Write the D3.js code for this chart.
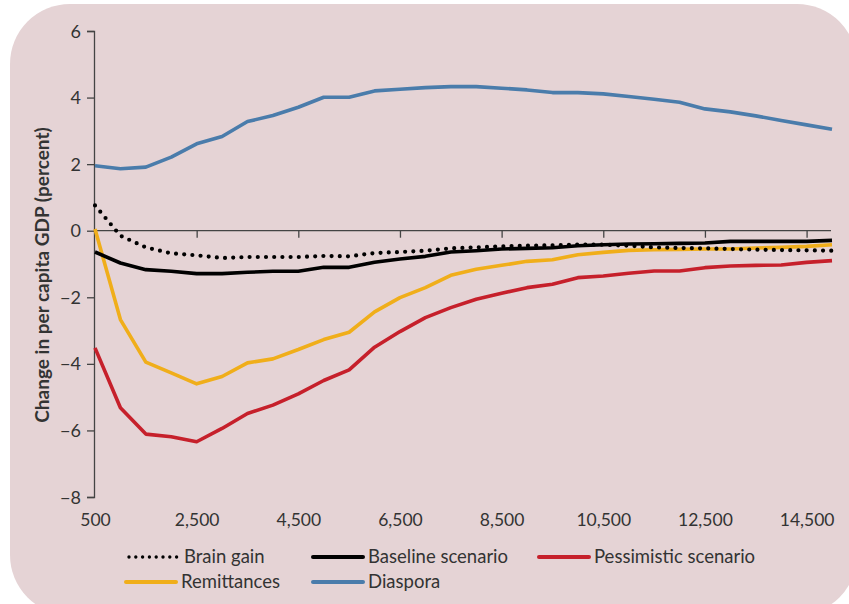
<!DOCTYPE html>
<html><head><meta charset="utf-8">
<script src="https://cdn.jsdelivr.net/npm/d3@7"></script>
<style>
html,body{margin:0;padding:0;background:#fff;}
svg text{font-family:Lato,"Open Sans",sans-serif;fill:#333;}
</style></head>
<body><svg id="chart" width="849" height="604"></svg>
<script>
const incomes = [500,1000,1500,2000,2500,3000,3500,4000,4500,5000,5500,6000,6500,7000,7500,8000,8500,9000,9500,10000,10500,11000,11500,12000,12500,13000,13500,14000,14500,15000];
const brainGain = [0.76,-0.15,-0.50,-0.68,-0.74,-0.82,-0.79,-0.79,-0.79,-0.76,-0.77,-0.67,-0.64,-0.60,-0.53,-0.50,-0.47,-0.45,-0.44,-0.42,-0.42,-0.45,-0.50,-0.52,-0.53,-0.55,-0.57,-0.58,-0.59,-0.60];
const baseline = [-0.64,-0.97,-1.17,-1.22,-1.29,-1.29,-1.25,-1.22,-1.22,-1.10,-1.10,-0.95,-0.85,-0.77,-0.64,-0.60,-0.55,-0.53,-0.51,-0.45,-0.42,-0.40,-0.39,-0.38,-0.37,-0.32,-0.32,-0.32,-0.32,-0.29];
const pessimistic = [-3.52,-5.32,-6.11,-6.19,-6.34,-5.94,-5.49,-5.24,-4.90,-4.50,-4.18,-3.50,-3.03,-2.61,-2.31,-2.06,-1.88,-1.71,-1.61,-1.41,-1.36,-1.28,-1.21,-1.21,-1.11,-1.06,-1.04,-1.03,-0.95,-0.90];
const remittances = [0.05,-2.67,-3.95,-4.27,-4.60,-4.38,-3.97,-3.85,-3.57,-3.27,-3.05,-2.44,-2.01,-1.71,-1.34,-1.16,-1.04,-0.92,-0.87,-0.72,-0.65,-0.59,-0.57,-0.56,-0.55,-0.55,-0.52,-0.50,-0.47,-0.42];
const diaspora = [1.95,1.86,1.91,2.21,2.61,2.83,3.28,3.46,3.71,4.01,4.01,4.20,4.25,4.30,4.33,4.33,4.28,4.23,4.15,4.15,4.11,4.03,3.95,3.86,3.66,3.57,3.45,3.31,3.18,3.05];
const xTicks = [500,2500,4500,6500,8500,10500,12500,14500];
const yTicks = [-8,-6,-4,-2,0,2,4,6];
const seriesNames = ["Brain gain","Baseline scenario","Pessimistic scenario","Remittances","Diaspora"];
const seriesValues = [brainGain, baseline, pessimistic, remittances, diaspora];
const seriesColors = ["#000000","#000000","#c6202b","#f0ae1a","#4a7cab"];
const yTitle = "Change in per capita GDP (percent)";

const svg = d3.select("#chart");
svg.append("rect").attr("x",10).attr("y",4).attr("width",847).attr("height",611)
  .attr("rx",60).attr("ry",60).attr("fill","#e5d3d5");

const x = d3.scaleLinear().domain([500,15000]).range([95,832]);
const y = d3.scaleLinear().domain([-8,6]).range([497,31]);
const fmt = d3.format(",");
const yfmt = v => v < 0 ? "\u2212" + Math.abs(v) : String(v);

// y axis
const ya = svg.append("g").attr("transform","translate(94,0)")
  .call(d3.axisLeft(y).tickValues(yTicks).tickSize(7).tickPadding(6).tickFormat(yfmt));
ya.select(".domain").attr("stroke","#444").attr("stroke-width",1.3);
ya.selectAll(".tick line").attr("stroke","#444").attr("stroke-width",1.3);
ya.selectAll("text").style("font-size","18px").attr("fill","#333").attr("dy","0.34em");

// zero axis with ticks
const xa = svg.append("g").attr("transform",`translate(0,${y(0)})`)
  .call(d3.axisBottom(x).tickValues(xTicks.slice(1)).tickSize(7).tickFormat(""));
xa.select(".domain").attr("stroke","#444").attr("stroke-width",1.3).attr("d",`M${x(500)},0H${x(15000)-1}`);
xa.selectAll(".tick line").attr("stroke","#444").attr("stroke-width",1.3);

// bottom labels
const xl = svg.append("g").attr("transform","translate(0,511)")
  .call(d3.axisBottom(x).tickValues(xTicks).tickSize(0).tickFormat(fmt));
xl.select(".domain").remove();
xl.selectAll("text").style("font-size","17.5px").attr("fill","#333");

// y title
svg.append("text").attr("transform","translate(49,275) rotate(-90)")
  .attr("text-anchor","middle").style("font-size","19px").style("font-weight","bold")
  .attr("fill","#222").text(yTitle);

const line = d3.line().x((d,i)=>x(incomes[i])).y(d=>y(d));
const drawOrder = [4,3,2,1,0];
drawOrder.forEach(k=>{
  const p = svg.append("path").datum(seriesValues[k]).attr("d",line)
    .attr("fill","none").attr("stroke",seriesColors[k]);
  if (k===0) p.attr("stroke-width",4.2).attr("stroke-linecap","round").attr("stroke-dasharray","0 8.2");
  else p.attr("stroke-width",3.6).attr("stroke-linejoin","round");
});

// legend
const legPos = [[129,557],[313,557],[539,557],[126,582],[313,582]];
seriesNames.forEach((n,k)=>{
  const [lx,ly] = legPos[k];
  const g = svg.append("g");
  const l = g.append("line").attr("x1",lx).attr("x2",lx+50).attr("y1",ly).attr("y2",ly)
    .attr("stroke",seriesColors[k]);
  if (k===0) l.attr("stroke-width",3.4).attr("stroke-linecap","round").attr("stroke-dasharray","0 6.8");
  else l.attr("stroke-width",4).attr("stroke-linecap","round");
  g.append("text").attr("x",lx+55).attr("y",ly).attr("dy","0.35em")
    .style("font-size","18.5px").attr("fill","#222").text(n);
});
</script></body></html>
